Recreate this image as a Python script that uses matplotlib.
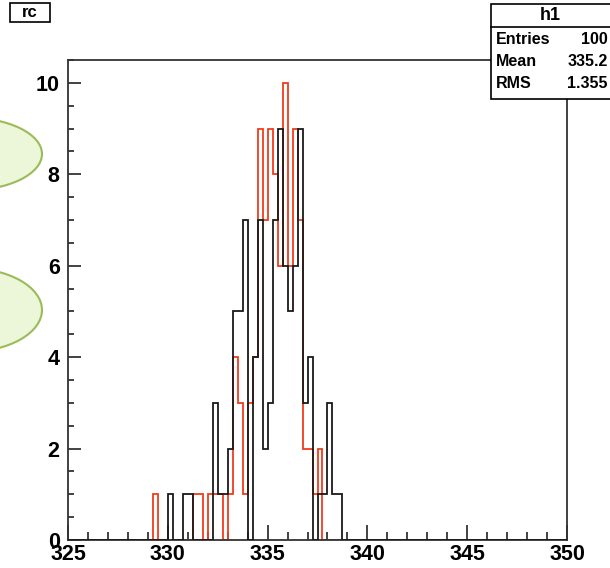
import matplotlib
matplotlib.use("Agg")
import matplotlib.pyplot as plt
import numpy as np
from matplotlib.patches import Ellipse, Rectangle

# histogram binning (100 bins over 325..350)
x_min, x_max, n_bins = 325, 350, 100

# non-empty bins: lower bin edge and count
black_lo = [330.00, 330.75, 331.00, 332.25, 332.50, 332.75, 333.00, 333.25, 333.50,
            333.75, 334.25, 334.50, 334.75, 335.00, 335.25, 335.50, 335.75, 336.00,
            336.25, 336.50, 336.75, 337.00, 337.50, 337.75, 338.00, 338.25, 338.50]
black_counts = [1, 1, 1, 3, 1, 1, 2, 5, 5,
                7, 4, 7, 2, 3, 7, 9, 6, 5,
                6, 9, 3, 4, 1, 1, 3, 1, 1]

red_lo = [329.25, 331.25, 331.50, 332.00, 332.25, 332.50, 333.00, 333.25, 333.50,
          333.75, 334.00, 334.25, 334.50, 334.75, 335.00, 335.25, 335.50, 335.75,
          336.00, 336.25, 336.50, 336.75, 337.00, 337.25, 337.50]
red_counts = [1, 1, 1, 1, 1, 1, 1, 4, 3,
              1, 3, 4, 9, 7, 9, 8, 6, 10,
              6, 9, 7, 2, 2, 1, 2]

x_ticks = [325, 330, 335, 340, 345, 350]
y_ticks = [0, 2, 4, 6, 8, 10]

stats_title = "h1"
stats_names = ["Entries", "Mean", "RMS"]
stats_values = ["100", "335.2", "1.355"]

W, H = 610, 568


def fx(px):
    return px / W


def fy(py):
    return 1 - py / H


def to_bins(lo, counts):
    edges = np.linspace(x_min, x_max, n_bins + 1)
    vals = np.zeros(n_bins)
    idx = np.round((np.asarray(lo) - x_min) / (edges[1] - edges[0])).astype(int)
    vals[idx] = counts
    return edges, vals


plt.rcParams["font.family"] = ["Liberation Sans", "DejaVu Sans"]
plt.rcParams["font.weight"] = "bold"

fig = plt.figure(figsize=(W / 100, H / 100), dpi=100)
ax = fig.add_axes([fx(68), fy(540), fx(567) - fx(68), fy(60) - fy(540)])

edges, red_vals = to_bins(red_lo, red_counts)
ax.stairs(red_vals, edges, baseline=0, color="#f23a1c", lw=1.3, zorder=2)
edges, black_vals = to_bins(black_lo, black_counts)
ax.stairs(black_vals, edges, baseline=0, color="#1a1a1a", lw=1.3, zorder=3)

ax.set_xlim(x_min, x_max)
ax.set_ylim(0, 10.5)
ax.set_xticks(x_ticks)
ax.set_xticks(np.arange(x_min, x_max + 1, 1), minor=True)
ax.set_yticks(y_ticks)
ax.set_yticks(np.arange(0, 10.51, 0.5), minor=True)
ax.set_xticklabels([str(t) for t in x_ticks])
ax.set_yticklabels([str(t) for t in y_ticks])
ax.tick_params(which="both", direction="in", color="#222222", width=1.2,
               top=False, right=False)
ax.tick_params(axis="x", which="major", length=11, pad=3, labelsize=15.5)
ax.tick_params(axis="x", which="minor", length=5.5)
ax.tick_params(axis="y", which="major", length=9, pad=6, labelsize=15.5)
ax.tick_params(axis="y", which="minor", length=4.5)
for lab in ax.get_xticklabels() + ax.get_yticklabels():
    lab.set_fontweight("bold")
for sp in ax.spines.values():
    sp.set_color("#333333")
    sp.set_linewidth(1.3)

# green callout ellipses on the left edge
for cy, h in [(154, 73), (310, 84)]:
    fig.add_artist(Ellipse((fx(-33), fy(cy)), fx(150), h / H,
                           transform=fig.transFigure, facecolor="#ecf6d8",
                           edgecolor="#9bbb59", lw=1.5, zorder=4))

# pad title box
fig.add_artist(Rectangle((fx(10), fy(22)), fx(40), 19 / H, transform=fig.transFigure,
                         facecolor="white", edgecolor="black", lw=1.2, zorder=5))
fig.text(fx(30), fy(12.5), "rc", ha="center", va="center", fontsize=12,
         fontweight="bold", zorder=6)

# stats box (runs off the right edge of the canvas)
fig.add_artist(Rectangle((fx(491), fy(99)), fx(615) - fx(491), 95 / H,
                         transform=fig.transFigure, facecolor="white",
                         edgecolor="black", lw=1.2, zorder=5))
fig.add_artist(plt.Line2D([fx(491), fx(615)], [fy(27), fy(27)],
                          transform=fig.transFigure, color="black", lw=1.2, zorder=6))
fig.text(fx(550), fy(15), stats_title, ha="center", va="center", fontsize=13,
         fontweight="bold", zorder=6)
for i, (name, val) in enumerate(zip(stats_names, stats_values)):
    y = fy(40 + i * 22)
    fig.text(fx(496), y, name, ha="left", va="center", fontsize=11.5,
             fontweight="bold", zorder=6)
    fig.text(fx(608), y, val, ha="right", va="center", fontsize=11.5,
             fontweight="bold", zorder=6)

fig.savefig("out.png", dpi=100)
